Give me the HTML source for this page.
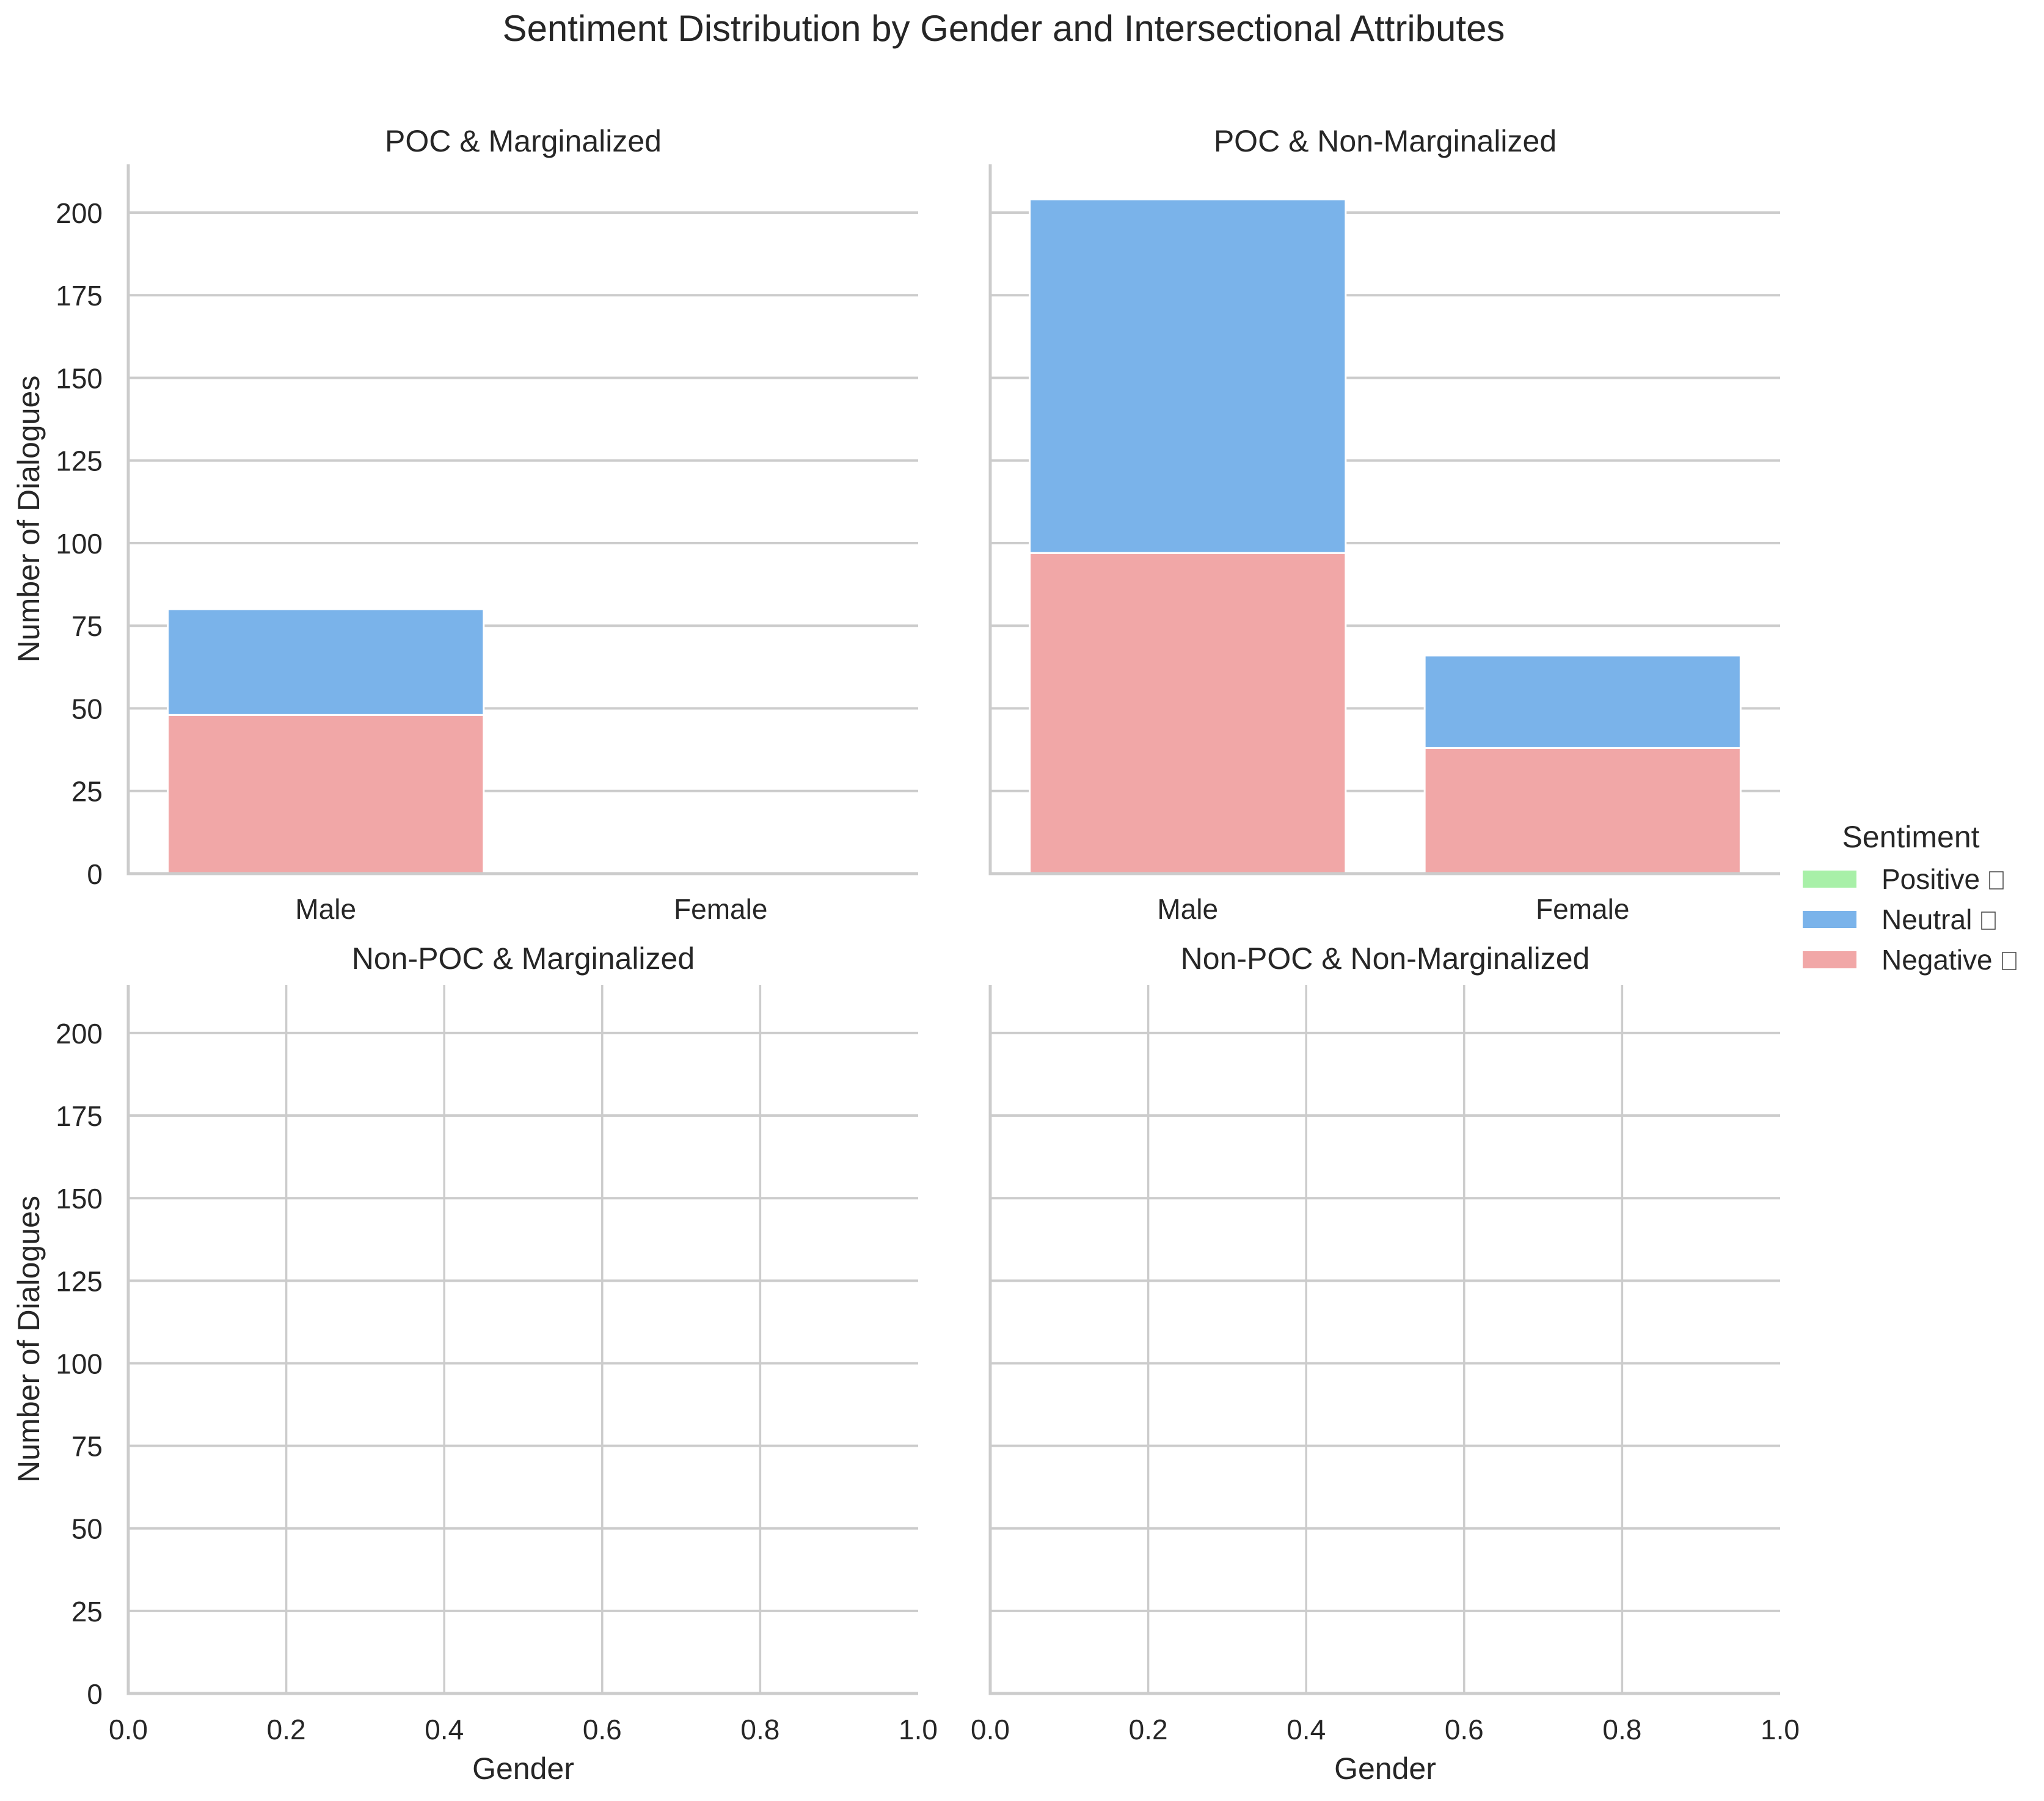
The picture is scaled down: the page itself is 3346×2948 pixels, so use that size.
<!DOCTYPE html>
<html><head><meta charset="utf-8"><style>
html,body{margin:0;padding:0;background:#fff;}
svg{display:block;font-family:"Liberation Sans",sans-serif;fill:#262626;}
</style></head><body>
<svg id="chart" width="3346" height="2948" viewBox="0 0 3346 2948" xmlns="http://www.w3.org/2000/svg">
<text x="1643" y="67" font-size="60" text-anchor="middle">Sentiment Distribution by Gender and Intersectional Attributes</text>
<g id="plots"></g>
<g>
<text x="3128" y="1387" font-size="50" text-anchor="middle">Sentiment</text>
<g><rect x="2951" y="1425" width="88" height="28" fill="#a8f0a8"/><text x="3080" y="1455" font-size="46">Positive</text><rect x="3257" y="1427" width="22" height="28" fill="none" stroke="#444" stroke-width="1.5"/></g>
<g><rect x="2951" y="1491" width="88" height="28" fill="#7ab3ea"/><text x="3080" y="1521" font-size="46">Neutral</text><rect x="3244" y="1493" width="22" height="28" fill="none" stroke="#444" stroke-width="1.5"/></g>
<g><rect x="2951" y="1557" width="88" height="28" fill="#f1a7a7"/><text x="3080" y="1587" font-size="46">Negative</text><rect x="3278" y="1559" width="22" height="28" fill="none" stroke="#444" stroke-width="1.5"/></g>
</g>
</svg>
<script>
const panelTitles = ["POC & Marginalized", "POC & Non-Marginalized", "Non-POC & Marginalized", "Non-POC & Non-Marginalized"];
const genders = ["Male", "Female"];
const sentiments = ["Negative", "Neutral", "Positive"];
const negativeValues = [[48, 0], [97, 38], [], []];
const neutralValues = [[32, 0], [107, 28], [], []];
const positiveValues = [[0, 0], [0, 0], [], []];
const yTicks = [0, 25, 50, 75, 100, 125, 150, 175, 200];
const xNumTicks = ["0.0", "0.2", "0.4", "0.6", "0.8", "1.0"];
const colors = {Negative: "#f1a7a7", Neutral: "#7ab3ea", Positive: "#a8f0a8"};
const NS = "http://www.w3.org/2000/svg";
const g = document.getElementById('plots');
const yMax = 214.6;
function mk(tag, attrs, parent) { const e = document.createElementNS(NS, tag); for (const k in attrs) e.setAttribute(k, attrs[k]); (parent||g).appendChild(e); return e; }
const panels = [
  {x0: 210, x1: 1503, top: 269, bot: 1430},
  {x0: 1621, x1: 2914, top: 269, bot: 1430},
  {x0: 210, x1: 1503, top: 1612, bot: 2772},
  {x0: 1621, x1: 2914, top: 1612, bot: 2772}
];
panels.forEach((p, i) => {
  const pg = mk('g', {});
  
  
  const yS = v => p.bot - v / yMax * (p.bot - p.top);
  const categorical = i < 2;
  if (!categorical) {
    xNumTicks.forEach((t, k) => {
      const x = p.x0 + k / 5 * (p.x1 - p.x0);
      if (k > 0 && k < 5) mk('line', {x1: x, x2: x, y1: p.top, y2: p.bot, stroke: '#cccccc', 'stroke-width': 3.5}, pg);
      const tx = mk('text', {x: x, y: 2847, 'font-size': 46, 'text-anchor': 'middle'}, pg);
      tx.textContent = t;
      
      
    });
    const xl = mk('text', {x: (p.x0 + p.x1) / 2, y: 2912, 'font-size': 50, 'text-anchor': 'middle'}, pg);
    xl.textContent = 'Gender';
    
    
  }
  yTicks.forEach(v => {
    const y = yS(v);
    mk('line', {x1: p.x0, x2: p.x1, y1: y, y2: y, stroke: '#cccccc', 'stroke-width': 4}, pg);
    if (i % 2 === 0) {
      const t = mk('text', {x: 168, y: y + 17, 'font-size': 46, 'text-anchor': 'end'}, pg);
      t.textContent = v;
      
      
    }
  });
  if (i % 2 === 0) {
    const cy = (p.top + p.bot) / 2;
    const yl = mk('text', {x: 64, y: cy, 'font-size': 50, 'text-anchor': 'middle', transform: `rotate(-90 64 ${cy})`}, pg);
    yl.textContent = 'Number of Dialogues';
    
    
  }
  if (categorical) {
    const cw = (p.x1 - p.x0) / genders.length;
    genders.forEach((gd, j) => {
      const cx = p.x0 + cw * (j + 0.5);
      const bw = cw * 0.8;
      let base = 0;
      [[negativeValues, 'Negative'], [neutralValues, 'Neutral'], [positiveValues, 'Positive']].forEach(([arr, s]) => {
        const v = arr[i][j] || 0;
        if (v > 0) {
          const r = mk('rect', {x: cx - bw / 2, y: yS(base + v), width: bw, height: yS(base) - yS(base + v), fill: colors[s], stroke: '#fff', 'stroke-width': 3}, pg);
          
          
        }
        base += v;
      });
      const t = mk('text', {x: cx, y: 1504, 'font-size': 46, 'text-anchor': 'middle'}, pg);
      t.textContent = gd;
      
      
    });
  }
  mk('line', {x1: p.x0, x2: p.x0, y1: p.top, y2: p.bot + 2.5, stroke: '#cccccc', 'stroke-width': 5}, pg);
  mk('line', {x1: p.x0 - 2.5, x2: p.x1, y1: p.bot, y2: p.bot, stroke: '#cccccc', 'stroke-width': 5}, pg);
  const ft = mk('text', {x: (p.x0 + p.x1) / 2, y: i < 2 ? 248 : 1586, 'font-size': 50, 'text-anchor': 'middle'}, pg);
  ft.textContent = panelTitles[i];
  
  
});
</script>
</body></html>
